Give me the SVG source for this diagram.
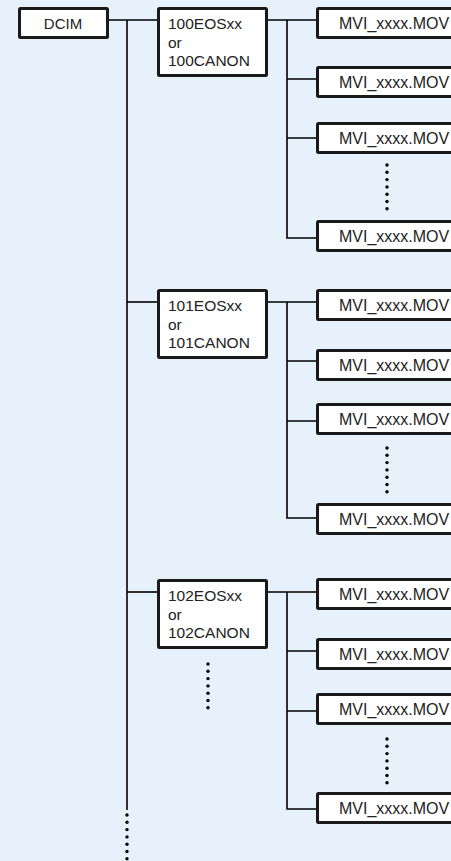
<svg xmlns="http://www.w3.org/2000/svg" width="451" height="861" viewBox="0 0 451 861">
<defs>
<style>
.box{fill:#fff;stroke:#1a1a1a;stroke-width:3;}
.ln{fill:none;stroke:#000;stroke-width:1.6;}
.t{font-family:"Liberation Sans",Arial,sans-serif;font-size:15px;fill:#222;}
.tf{font-size:15.5px;}
.tm{font-size:16px;}
.dot{fill:#000;}
</style>
<g id="dots7">
<circle class="dot" cx="0" cy="0" r="1.7"/>
<circle class="dot" cx="0" cy="7.3" r="1.7"/>
<circle class="dot" cx="0" cy="14.6" r="1.7"/>
<circle class="dot" cx="0" cy="21.9" r="1.7"/>
<circle class="dot" cx="0" cy="29.2" r="1.7"/>
<circle class="dot" cx="0" cy="36.5" r="1.7"/>
<circle class="dot" cx="0" cy="43.8" r="1.7"/>
</g>
</defs>
<rect x="0" y="0" width="451" height="861" fill="#e6f1fc"/>

<g id="connectors">
<path class="ln" d="M109 20H157"/>
<path class="ln" d="M127 20V810"/>
<path class="ln" d="M127 302H157"/>
<path class="ln" d="M127 592H157"/>
<path class="ln" d="M268 20H316 M287 20V238H316 M287 79H316 M287 138H316"/>
<path class="ln" d="M268 302H316 M287 302V518H316 M287 361H316 M287 421H316"/>
<path class="ln" d="M268 592H316 M287 592V809H316 M287 651H316 M287 711H316"/>
</g>

<g id="dcim"><rect class="box" x="19.5" y="8.5" width="88" height="29" rx="1"/><text class="t" x="63" y="29" text-anchor="middle">DCIM</text></g>

<g id="f100"><rect class="box" x="158.5" y="8.5" width="108" height="67" rx="1"/>
<text class="t tf" x="168" y="29">100EOSxx</text><text class="t tf" x="168" y="47.5">or</text><text class="t tf" x="168" y="66">100CANON</text></g>
<g id="f101"><rect class="box" x="158.5" y="290.5" width="108" height="67" rx="1"/>
<text class="t tf" x="168" y="311">101EOSxx</text><text class="t tf" x="168" y="329.5">or</text><text class="t tf" x="168" y="348">101CANON</text></g>
<g id="f102"><rect class="box" x="158.5" y="580.5" width="108" height="67" rx="1"/>
<text class="t tf" x="168" y="601">102EOSxx</text><text class="t tf" x="168" y="619.5">or</text><text class="t tf" x="168" y="638">102CANON</text></g>

<g id="m1a"><rect class="box" x="317.5" y="8.5" width="150" height="29" rx="1"/><text class="t tm" x="339" y="28.5">MVI_xxxx.MOV</text></g>
<g id="m1b"><rect class="box" x="317.5" y="67.5" width="150" height="29" rx="1"/><text class="t tm" x="339" y="87.5">MVI_xxxx.MOV</text></g>
<g id="m1c"><rect class="box" x="317.5" y="123.5" width="150" height="29" rx="1"/><text class="t tm" x="339" y="143.5">MVI_xxxx.MOV</text></g>
<g id="m1d"><rect class="box" x="317.5" y="221.5" width="150" height="29" rx="1"/><text class="t tm" x="339" y="241.5">MVI_xxxx.MOV</text></g>

<g id="m2a"><rect class="box" x="317.5" y="290.5" width="150" height="29" rx="1"/><text class="t tm" x="339" y="310.5">MVI_xxxx.MOV</text></g>
<g id="m2b"><rect class="box" x="317.5" y="350.5" width="150" height="29" rx="1"/><text class="t tm" x="339" y="370.5">MVI_xxxx.MOV</text></g>
<g id="m2c"><rect class="box" x="317.5" y="404.5" width="150" height="29" rx="1"/><text class="t tm" x="339" y="424.5">MVI_xxxx.MOV</text></g>
<g id="m2d"><rect class="box" x="317.5" y="504.5" width="150" height="29" rx="1"/><text class="t tm" x="339" y="524.5">MVI_xxxx.MOV</text></g>

<g id="m3a"><rect class="box" x="317.5" y="579.5" width="150" height="29" rx="1"/><text class="t tm" x="339" y="599.5">MVI_xxxx.MOV</text></g>
<g id="m3b"><rect class="box" x="317.5" y="639.5" width="150" height="29" rx="1"/><text class="t tm" x="339" y="659.5">MVI_xxxx.MOV</text></g>
<g id="m3c"><rect class="box" x="317.5" y="694.5" width="150" height="29" rx="1"/><text class="t tm" x="339" y="714.5">MVI_xxxx.MOV</text></g>
<g id="m3d"><rect class="box" x="317.5" y="793.5" width="150" height="29" rx="1"/><text class="t tm" x="339" y="813.5">MVI_xxxx.MOV</text></g>

<g id="ellipses">
<use href="#dots7" x="387" y="165"/>
<use href="#dots7" x="387" y="448"/>
<use href="#dots7" x="387" y="739"/>
<use href="#dots7" x="208" y="664"/>
<use href="#dots7" x="127" y="815"/>
</g>
</svg>
